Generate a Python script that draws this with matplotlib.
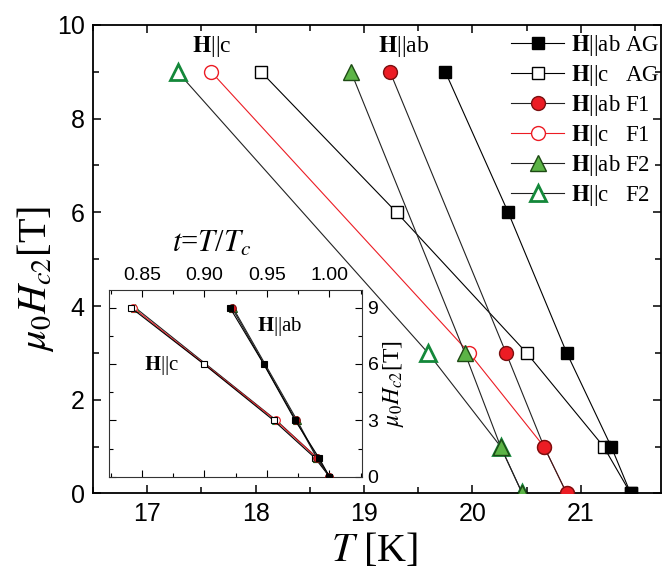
import matplotlib
matplotlib.use('Agg')
import matplotlib.pyplot as plt
from matplotlib.ticker import MultipleLocator, FormatStrFormatter
import numpy as np

plt.rcParams['font.family'] = 'Liberation Serif'
plt.rcParams['mathtext.fontset'] = 'stix'

# H_c2 (T) vs T (K)
H_AG = [9, 6, 3, 1, 0]
T_AG_ab = [19.75, 20.33, 20.87, 21.28, 21.46]
T_AG_c = [18.05, 19.30, 20.50, 21.21, 21.46]

H_F = [9, 3, 1, 0]
T_F1_ab = [19.24, 20.31, 20.66, 20.87]
T_F1_c = [17.59, 19.97, 20.66, 20.87]
T_F2_ab = [18.88, 19.93, 20.26, 20.46]
T_F2_c = [17.28, 19.59, 20.26, 20.46]

labels = [r'$\mathbf{H}$||ab AG', r'$\mathbf{H}$||c   AG', r'$\mathbf{H}$||ab F1',
          r'$\mathbf{H}$||c   F1', r'$\mathbf{H}$||ab F2', r'$\mathbf{H}$||c   F2']

red = '#ec1c24'
green = '#5cb446'
dgreen = '#14883a'

series = [
    (T_AG_ab, H_AG, dict(marker='s', color='k', mfc='k', mec='k', ms=8.5), 6),
    (T_AG_c, H_AG, dict(marker='s', color='k', mfc='w', mec='k', ms=8.5, mew=1.0), 3),
    (T_F1_ab, H_F, dict(marker='o', color='#222222', mfc=red, mec='#7a1010', ms=10), 5),
    (T_F1_c, H_F, dict(marker='o', color=red, mfc='w', mec=red, ms=10, mew=1.0), 2),
    (T_F2_ab, H_F, dict(marker='^', color='#222222', mfc=green, mec='#1d4a14', ms=11), 4),
    (T_F2_c, H_F, dict(marker='^', color='#222222', mfc='w', mec=dgreen, ms=11, mew=2.0), 1),
]

fig = plt.figure(figsize=(6.63, 5.69), dpi=100)
ax = fig.add_axes([0.1403, 0.1329, 0.8567, 0.8232])

handles = []
for (T, H, st, z), lab in zip(series, labels):
    h, = ax.plot(T, H, lw=0.8, label=lab, zorder=z, **st)
    handles.append(h)

ax.set_xlim(16.5, 21.74)
ax.set_ylim(0, 10)
ax.xaxis.set_major_locator(MultipleLocator(1))
ax.xaxis.set_minor_locator(MultipleLocator(0.5))
ax.yaxis.set_major_locator(MultipleLocator(2))
ax.yaxis.set_minor_locator(MultipleLocator(1))
ax.tick_params(which='both', direction='in', top=True, right=True, width=1.1,
               labelsize=18, labelfontfamily='Liberation Sans', pad=6)
ax.tick_params(which='major', length=6)
ax.tick_params(which='minor', length=4)
for s in ax.spines.values():
    s.set_linewidth(1.3)

fig.text(375 / 663, 1 - 551 / 569, r'$T$ [K]', fontsize=29, ha='center', va='center')
fig.text(36 / 663, 1 - 279 / 569, r'$\mu_{\mathit{0}}H_{\mathit{c2}}$[T]', fontsize=29,
         rotation=90, ha='center', va='center')

ax.text(17.60, 9.54, r'$\mathbf{H}$||c', fontsize=17, ha='center', va='center')
ax.text(19.37, 9.54, r'$\mathbf{H}$||ab', fontsize=17, ha='center', va='center')

fig.legend(handles=handles, loc='upper left', bbox_to_anchor=(0.771, 0.942),
           frameon=False, fontsize=16.5, handlelength=2.3, handletextpad=0.3,
           labelspacing=0.22, borderpad=0, borderaxespad=0)

# inset: reduced temperature t = T/Tc
ins = fig.add_axes([0.1649, 0.1622, 0.3811, 0.3281])
for (T, H, st, z), lab in zip(series, labels):
    T = np.array(T)
    st2 = dict(st)
    st2['ms'] = st['ms'] * 0.55
    st2['mew'] = 0.8
    ins.plot(T / T[-1], H, lw=0.8, zorder=z, **st2)

ins.set_xlim(0.824, 1.026)
ins.set_ylim(0, 9.93)
ins.xaxis.set_major_locator(MultipleLocator(0.05))
ins.xaxis.set_minor_locator(MultipleLocator(0.025))
ins.xaxis.set_major_formatter(FormatStrFormatter('%.2f'))
ins.yaxis.set_major_locator(MultipleLocator(3))
ins.yaxis.set_minor_locator(MultipleLocator(1.5))
ins.tick_params(which='both', direction='in', top=True, bottom=True, left=True, right=True,
                labeltop=True, labelbottom=False, labelleft=False, labelright=True,
                labelsize=14, labelfontfamily='Liberation Sans', width=0.8, pad=4)
ins.tick_params(which='major', length=5)
ins.tick_params(which='minor', length=3)
for s in ins.spines.values():
    s.set_linewidth(0.8)
    s.set_color('#333333')
ins.yaxis.set_label_position('right')
ins.set_ylabel(r'$\mu_{\mathit{0}}H_{\mathit{c2}}$[T]', fontsize=17, rotation=90, labelpad=2)
ins.text(0.960, 7.98, r'$\mathbf{H}$||ab', fontsize=15, ha='center', va='center')
ins.text(0.866, 5.94, r'$\mathbf{H}$||c', fontsize=15, ha='center', va='center')
fig.text(212 / 663, 1 - 252 / 569, r'$t$=$T$/$T_c$', fontsize=22, ha='center', va='baseline')

fig.savefig('out.png', dpi=100)
